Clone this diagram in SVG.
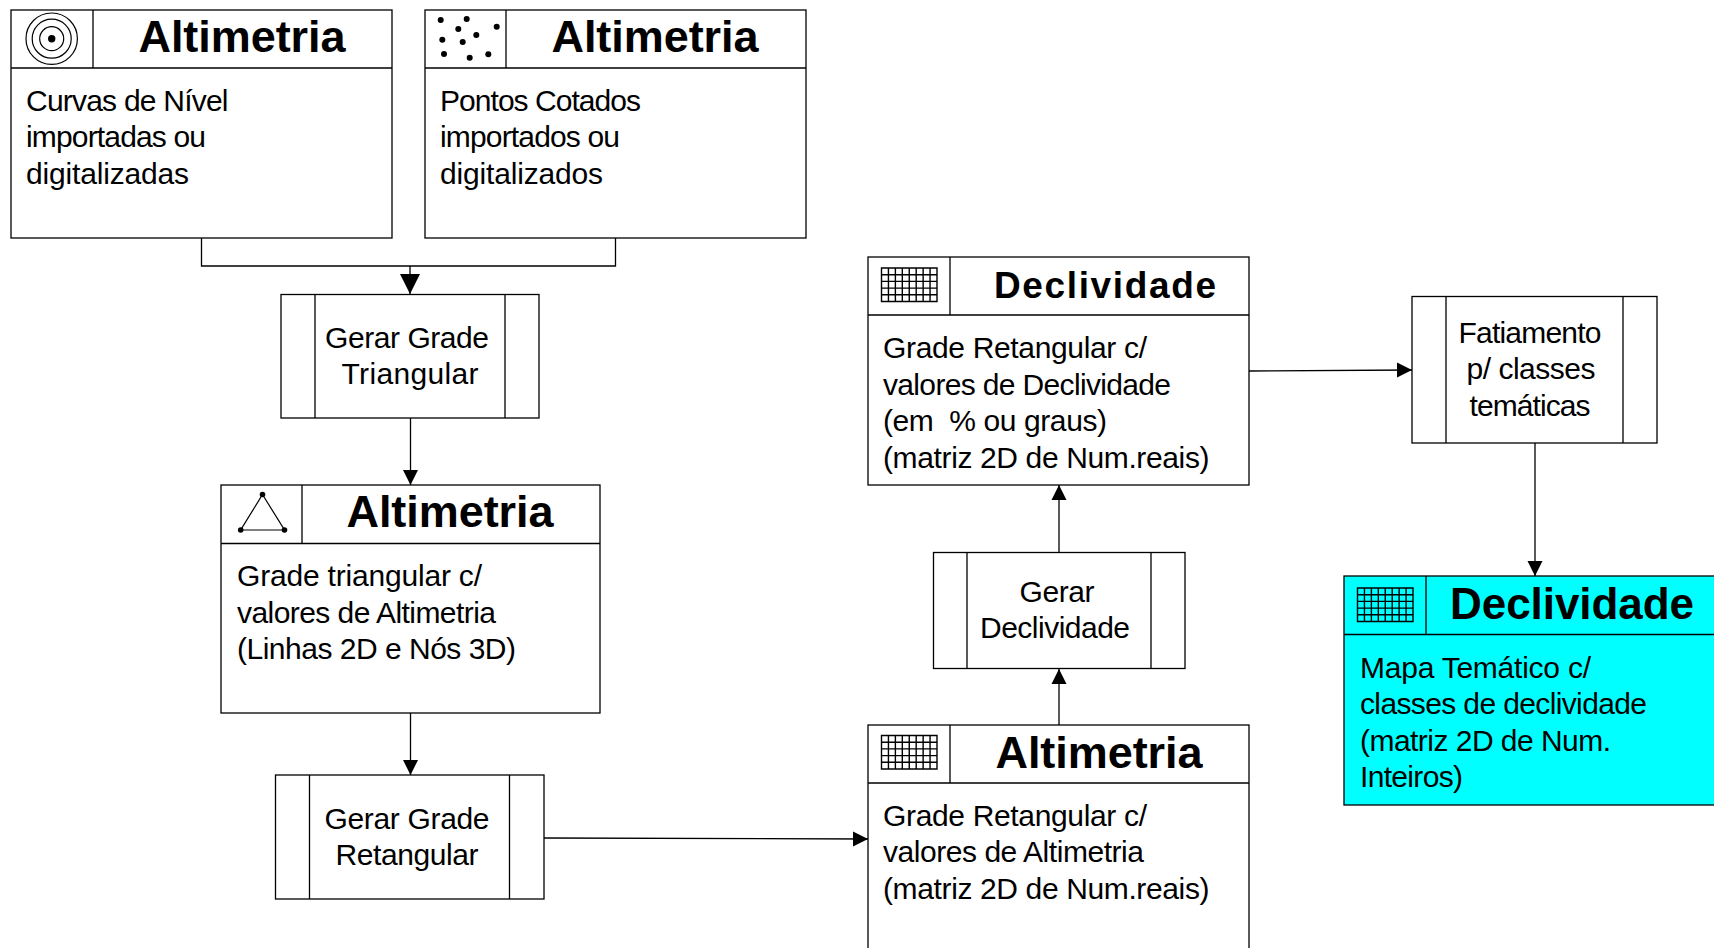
<svg xmlns="http://www.w3.org/2000/svg" width="1714" height="948" viewBox="0 0 1714 948">
<style>
.b{fill:#fff;stroke:#000;stroke-width:1.3}
.c{fill:#0ff}
.l{fill:none;stroke:#000;stroke-width:1.3}
.i{fill:none;stroke:#000;stroke-width:1.2}
.g{fill:none;stroke:#000;stroke-width:1.4}
.d{fill:#000;stroke:none}
text{font-family:"Liberation Sans",Arial,sans-serif;fill:#000}
.t{font-size:45px;font-weight:bold;text-anchor:middle}
.x{font-size:30px}
.m{font-size:30px;text-anchor:middle}
</style>
<defs>
<marker id="a" markerUnits="userSpaceOnUse" markerWidth="16" markerHeight="16" refX="15" refY="8" orient="auto"><path d="M0 0.5L15 8L0 15.5Z" fill="#000"/></marker>
<marker id="A" markerUnits="userSpaceOnUse" markerWidth="21" markerHeight="21" refX="20" refY="10.5" orient="auto"><path d="M0 0.5L20 10.5L0 20.5Z" fill="#000"/></marker>
<g id="grid"><path class="g" d="M0 0H55.500V33.500H0ZM0 6.700H55.500M0 13.400H55.500M0 20.100H55.500M0 26.800H55.500M6.940 0V33.500M13.880 0V33.500M20.810 0V33.500M27.750 0V33.500M34.690 0V33.500M41.630 0V33.500M48.560 0V33.500"/></g>
</defs>
<g id="connectors">
<path class="l" d="M201.500 238V266H615.500V238"/>
<path class="l" d="M410 266V294" marker-end="url(#A)"/>
<path class="l" d="M410.500 418V485" marker-end="url(#a)"/>
<path class="l" d="M410.500 713V775" marker-end="url(#a)"/>
<path class="l" d="M544 838L868 839" marker-end="url(#a)"/>
<path class="l" d="M1059 725V669" marker-end="url(#a)"/>
<path class="l" d="M1059 552V485" marker-end="url(#a)"/>
<path class="l" d="M1249 371L1412 370" marker-end="url(#a)"/>
<path class="l" d="M1535 443V576" marker-end="url(#a)"/>
</g>
<g id="n1">
<rect class="b" x="11" y="10" width="381" height="228"/><path class="l" d="M11 68H392M93 10V68"/>
<circle class="i" cx="51.700" cy="38.700" r="25.700"/><circle class="i" cx="51.700" cy="38.700" r="19.500"/><circle class="i" cx="51.700" cy="38.700" r="12"/><circle class="d" cx="51.700" cy="38.700" r="3.700"/>
<text class="t" x="242" y="52" textLength="207">Altimetria</text>
<text class="x" x="26" y="111" textLength="202.500">Curvas de Nível</text><text class="x" x="26" y="147" textLength="180">importadas ou</text><text class="x" x="26" y="184" textLength="163">digitalizadas</text>
</g>
<g id="n2">
<rect class="b" x="425" y="10" width="381" height="228"/><path class="l" d="M425 68H806M506 10V68"/>
<g class="d"><circle cx="440.700" cy="20" r="3"/><circle cx="466.700" cy="19" r="3"/><circle cx="496.700" cy="26.700" r="3"/><circle cx="458.300" cy="29" r="3"/><circle cx="476.300" cy="35" r="3"/><circle cx="442.300" cy="39.700" r="3"/><circle cx="462.700" cy="42" r="3"/><circle cx="444" cy="54" r="3"/><circle cx="469.700" cy="57.700" r="3"/><circle cx="488.300" cy="54.300" r="3"/></g>
<text class="t" x="655" y="52" textLength="207">Altimetria</text>
<text class="x" x="440" y="111" textLength="201">Pontos Cotados</text><text class="x" x="440" y="147" textLength="180">importados ou</text><text class="x" x="440" y="184" textLength="163">digitalizados</text>
</g>
<g id="p1">
<rect class="b" x="281" y="294.500" width="258" height="123.500"/><path class="l" d="M315 294.500V418M505 294.500V418"/>
<text class="m" x="407" y="348" textLength="164">Gerar Grade</text><text class="m" x="410" y="384" textLength="137">Triangular</text>
</g>
<g id="n3">
<rect class="b" x="221" y="485" width="379" height="228"/><path class="l" d="M221 543.500H600M302 485V543.500"/>
<path class="i" d="M262.500 494.500L284.500 530H240.700Z"/><circle class="d" cx="262.500" cy="494.500" r="2.800"/><circle class="d" cx="284.500" cy="530" r="2.800"/><circle class="d" cx="240.700" cy="530" r="2.800"/>
<text class="t" x="450" y="527" textLength="207">Altimetria</text>
<text class="x" x="237" y="586" textLength="245">Grade triangular c/</text><text class="x" x="237" y="623" textLength="259">valores de Altimetria</text><text class="x" x="237" y="659" textLength="279">(Linhas 2D e Nós 3D)</text>
</g>
<g id="p2">
<rect class="b" x="275.500" y="775" width="268.500" height="124"/><path class="l" d="M309.500 775V899M509.500 775V899"/>
<text class="m" x="407" y="829" textLength="165">Gerar Grade</text><text class="m" x="407" y="865" textLength="143">Retangular</text>
</g>
<g id="n4">
<rect class="b" x="868" y="725" width="381" height="240"/><path class="l" d="M868 783H1249M950 725V783"/>
<use href="#grid" x="881.500" y="735.500"/>
<text class="t" x="1099" y="768" textLength="207">Altimetria</text>
<text class="x" x="883" y="826" textLength="264">Grade Retangular c/</text><text class="x" x="883" y="862" textLength="261">valores de Altimetria</text><text class="x" x="883" y="899" textLength="326.500">(matriz 2D de Num.reais)</text>
</g>
<g id="p3">
<rect class="b" x="933.500" y="552.500" width="251.500" height="116"/><path class="l" d="M967 552.500V668.500M1151 552.500V668.500"/>
<text class="m" x="1057" y="602" textLength="75">Gerar</text><text class="m" x="1055" y="638" textLength="150">Declividade</text>
</g>
<g id="n5">
<rect class="b" x="868" y="257" width="381" height="228"/><path class="l" d="M868 315H1249M950 257V315"/>
<use href="#grid" x="881.500" y="268"/>
<text class="t" x="1105" y="298" style="font-size:37px" textLength="222">Declividade</text>
<text class="x" x="883" y="358" textLength="264">Grade Retangular c/</text><text class="x" x="883" y="395" textLength="288">valores de Declividade</text><text class="x" x="883" y="431" textLength="224" xml:space="preserve">(em  % ou graus)</text><text class="x" x="883" y="468" textLength="326.500">(matriz 2D de Num.reais)</text>
</g>
<g id="p4">
<rect class="b" x="1412" y="296.500" width="245" height="146.500"/><path class="l" d="M1446 296.500V443M1623 296.500V443"/>
<text class="m" x="1530" y="343" textLength="143">Fatiamento</text><text class="m" x="1531" y="379" textLength="129">p/ classes</text><text class="m" x="1530" y="416" textLength="121">temáticas</text>
</g>
<g id="n6">
<rect class="b c" x="1344" y="576" width="390" height="229"/><path class="l" d="M1344 634.500H1734M1426 576V634.500"/>
<use href="#grid" x="1357.500" y="588"/>
<text class="t" x="1572" y="619" style="font-size:44px" textLength="244">Declividade</text>
<text class="x" x="1360" y="678" textLength="231">Mapa Temático c/</text><text class="x" x="1360" y="714" textLength="287">classes de declividade</text><text class="x" x="1360" y="751" textLength="251">(matriz 2D de Num.</text><text class="x" x="1360" y="787" textLength="103">Inteiros)</text>
</g>
</svg>
